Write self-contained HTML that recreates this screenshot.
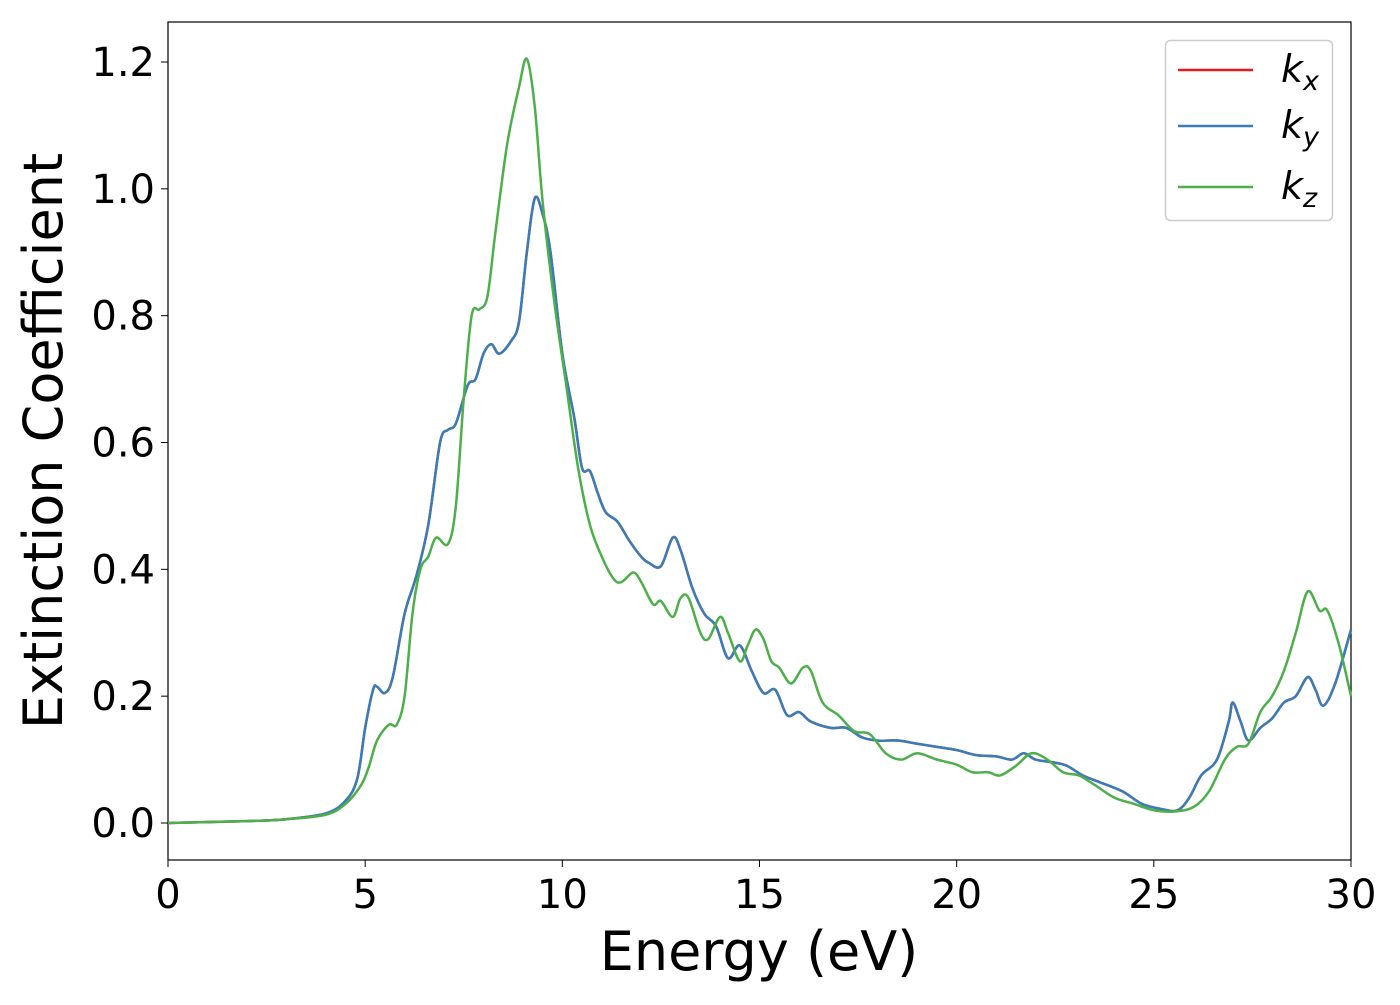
<!DOCTYPE html>
<html><head><meta charset="utf-8"><style>
body{margin:0;background:#fff;}
svg text{font-family:"DejaVu Sans","Liberation Sans",sans-serif;fill:#000;}
</style></head><body>
<svg id="chart" width="1400" height="1000" viewBox="0 0 1400 1000">
<rect x="168" y="22" width="1183" height="838" fill="#fff" stroke="#000" stroke-width="1.2"/>
<g id="ticks"></g>
<g id="lines"></g>
<text x="759" y="970" font-size="54" text-anchor="middle">Energy (eV)</text>
<text transform="translate(62,441) rotate(-90)" font-size="54" text-anchor="middle">Extinction Coefficient</text>
<g>
<rect x="1165.5" y="40.5" width="167" height="180" rx="5" fill="#fff" fill-opacity="0.8" stroke="#ccc" stroke-width="1.5"/>
<line x1="1178" y1="70" x2="1253" y2="70" stroke="#e41a1c" stroke-width="2.5"/>
<text x="1281" y="82" font-size="38" font-style="italic">k<tspan font-size="27" dy="8">x</tspan></text>
<line x1="1178" y1="126" x2="1253" y2="126" stroke="#377eb8" stroke-width="2.5"/>
<text x="1281" y="138" font-size="38" font-style="italic">k<tspan font-size="27" dy="8">y</tspan></text>
<line x1="1178" y1="187" x2="1253" y2="187" stroke="#4daf4a" stroke-width="2.5"/>
<text x="1281" y="199" font-size="38" font-style="italic">k<tspan font-size="27" dy="8">z</tspan></text>
</g>
</svg>
<script>
const xTicks=[0,5,10,15,20,25,30];
const yTicks=[0.0,0.2,0.4,0.6,0.8,1.0,1.2];
const energyXY=[0,2,3,4,4.5,4.8,5.0,5.2,5.3,5.5,5.7,6.0,6.3,6.6,6.9,7.1,7.3,7.6,7.8,8.0,8.2,8.4,8.7,8.9,9.1,9.3,9.5,9.7,10.0,10.3,10.5,10.7,10.9,11.1,11.4,11.7,12.0,12.2,12.5,12.8,13.0,13.3,13.6,13.9,14.2,14.5,14.8,15.1,15.4,15.7,16.0,16.3,16.8,17.2,17.6,18.0,18.5,19,19.5,20,20.5,21,21.4,21.7,22,22.5,22.8,23.2,23.6,24.2,24.7,25.2,25.6,25.9,26.2,26.6,26.9,27.0,27.2,27.4,27.7,28.0,28.3,28.6,28.9,29.1,29.3,29.6,30];
const kyVals=[0,0.003,0.006,0.015,0.035,0.07,0.15,0.21,0.215,0.205,0.23,0.33,0.39,0.47,0.6,0.62,0.63,0.69,0.70,0.74,0.755,0.74,0.76,0.79,0.9,0.985,0.96,0.9,0.74,0.64,0.56,0.555,0.52,0.49,0.475,0.445,0.42,0.41,0.405,0.45,0.43,0.37,0.33,0.31,0.26,0.28,0.24,0.205,0.21,0.17,0.175,0.16,0.15,0.15,0.135,0.13,0.13,0.125,0.12,0.115,0.107,0.105,0.10,0.11,0.10,0.095,0.09,0.075,0.065,0.05,0.03,0.022,0.02,0.04,0.075,0.1,0.16,0.19,0.16,0.13,0.15,0.165,0.19,0.2,0.23,0.21,0.185,0.22,0.305];
const kxVals=kyVals.slice();
const energyZ=[0,2,3,4,4.5,4.9,5.1,5.3,5.6,5.8,6.0,6.2,6.4,6.6,6.8,7.1,7.3,7.5,7.7,7.9,8.1,8.3,8.6,8.9,9.1,9.3,9.5,9.8,10.1,10.4,10.7,11.0,11.3,11.5,11.8,12.0,12.3,12.5,12.8,13.0,13.2,13.5,13.7,14.0,14.2,14.5,14.7,14.9,15.1,15.3,15.5,15.8,16.1,16.3,16.6,17.0,17.4,17.8,18.2,18.6,19.0,19.5,20,20.4,20.8,21.1,21.5,21.9,22.3,22.7,23.1,23.5,24.0,24.5,25,25.5,26,26.4,26.8,27.1,27.4,27.7,28.0,28.3,28.6,28.9,29.2,29.4,29.7,30];
const kzVals=[0,0.003,0.006,0.013,0.03,0.06,0.09,0.13,0.155,0.155,0.2,0.33,0.4,0.42,0.45,0.44,0.5,0.67,0.8,0.81,0.83,0.93,1.07,1.16,1.205,1.13,0.98,0.82,0.69,0.56,0.47,0.42,0.385,0.38,0.395,0.38,0.345,0.35,0.325,0.355,0.355,0.3,0.29,0.325,0.3,0.255,0.28,0.305,0.29,0.255,0.245,0.22,0.245,0.24,0.19,0.17,0.145,0.14,0.11,0.1,0.11,0.1,0.092,0.08,0.08,0.075,0.09,0.11,0.1,0.08,0.075,0.06,0.04,0.03,0.02,0.018,0.025,0.05,0.1,0.12,0.125,0.175,0.2,0.24,0.3,0.365,0.335,0.335,0.28,0.2];
const X=v=>168+v*(1183/30);
const Y=v=>823-v*(761/1.2);
const NS='http://www.w3.org/2000/svg';
const tg=document.getElementById('ticks'), lg=document.getElementById('lines');
xTicks.forEach(t=>{
  const l=document.createElementNS(NS,'line');
  l.setAttribute('x1',X(t));l.setAttribute('x2',X(t));l.setAttribute('y1',860);l.setAttribute('y2',867);l.setAttribute('stroke','#000');
  
  
  tg.appendChild(l);
  const s=document.createElementNS(NS,'text');
  s.setAttribute('x',X(t));s.setAttribute('y',908);s.setAttribute('font-size','40');s.setAttribute('text-anchor','middle');
  s.textContent=t;
  
  
  tg.appendChild(s);
});
yTicks.forEach(t=>{
  const l=document.createElementNS(NS,'line');
  l.setAttribute('x1',161);l.setAttribute('x2',168);l.setAttribute('y1',Y(t));l.setAttribute('y2',Y(t));l.setAttribute('stroke','#000');
  
  
  tg.appendChild(l);
  const s=document.createElementNS(NS,'text');
  s.setAttribute('x',155);s.setAttribute('y',Y(t)+14);s.setAttribute('font-size','40');s.setAttribute('text-anchor','end');
  s.textContent=t.toFixed(1);
  
  
  tg.appendChild(s);
});
function pathFor(xs,ys){
  const p=xs.map((x,i)=>[X(x),Y(ys[i])]);
  let d='M'+p[0][0]+','+p[0][1];
  for(let i=0;i<p.length-1;i++){
    const p0=p[Math.max(0,i-1)],p1=p[i],p2=p[i+1],p3=p[Math.min(p.length-1,i+2)];
    const c1=[p1[0]+(p2[0]-p0[0])/6,p1[1]+(p2[1]-p0[1])/6];
    const c2=[p2[0]-(p3[0]-p1[0])/6,p2[1]-(p3[1]-p1[1])/6];
    d+=` C${c1[0]},${c1[1]} ${c2[0]},${c2[1]} ${p2[0]},${p2[1]}`;
  }
  return d;
}
function addLine(xs,ys,color,name){
  const pa=document.createElementNS(NS,'path');
  pa.setAttribute('d',pathFor(xs,ys));pa.setAttribute('fill','none');pa.setAttribute('stroke',color);pa.setAttribute('stroke-width','2.5');
  
  
  lg.appendChild(pa);
}
addLine(energyXY,kxVals,'#e41a1c','line-kx');
addLine(energyXY,kyVals,'#377eb8','line-ky');
addLine(energyZ,kzVals,'#4daf4a','line-kz');
</script>
</body></html>
